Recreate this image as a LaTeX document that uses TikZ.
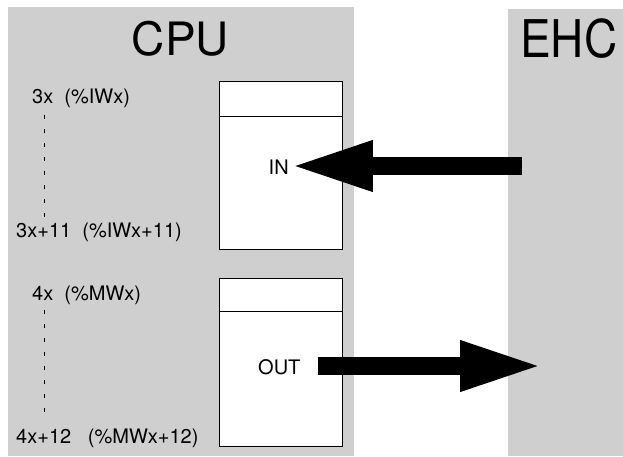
\documentclass[tikz,border=0pt]{standalone}
\usepackage{fontspec}
\setmainfont{TeX Gyre Heros}
\usetikzlibrary{arrows.meta}
\definecolor{panelgray}{RGB}{207,207,207}

\begin{document}
\begin{tikzpicture}[x=1pt, y=-1pt,
  regbox/.style={draw, fill=white, line width=0.8pt, minimum width=123pt,
    minimum height=168pt, anchor=north west, inner sep=0pt},
  lbl/.style={anchor=base west, inner sep=0pt, font=\fontsize{20}{24}\selectfont},
  title/.style={inner sep=0pt, font=\fontsize{46}{50}\selectfont},
  bigarrow/.style={line width=18pt, -{Triangle[length=83pt, width=46pt]}},
  dotline/.style={line width=0.7pt, dash pattern=on 3.5pt off 10.5pt}]

\useasboundingbox (0,0) rectangle (623,456);

% CPU and EHC panels
\fill[panelgray] (8,7) rectangle (354,456);
\fill[panelgray] (508,9) rectangle (623,456);

% Titles
\node[title, anchor=base] (cpu) at (180.5,55) {CPU};
\node[title, anchor=base west] (ehc) at (520,57) {\scalebox{1}[1.13]{EHC}};

% Input words
\node[regbox] (inbox) at (219,81) {};
\draw ([yshift=-35pt]inbox.north west) -- ([yshift=-35pt]inbox.north east);
\node[lbl] (iwfirst) at (32,103) {3x\ \ (\%IWx)};
\node[lbl] (iwlast) at (16,237) {3x+11\ \ (\%IWx+11)};
\draw[dotline] (44,115) -- (44,225);
\node[lbl] (inlbl) at (268.5,174) {IN};

% Output words
\node[regbox] (outbox) at (219,278) {};
\draw ([yshift=-33pt]outbox.north west) -- ([yshift=-33pt]outbox.north east);
\node[lbl] (mwfirst) at (32,300) {4x\ \ (\%MWx)};
\node[lbl] (mwlast) at (16,443) {4x+12\ \ \ (\%MWx+12)};
\draw[dotline] (44,310) -- (44,420);
\node[lbl] (outlbl) at (258,374) {OUT};

% Exchange arrows
\coordinate (ehcin) at (522,166);
\coordinate (ehcout) at (543,366);
\draw[bigarrow, shorten >=1pt] (ehcin) -- (ehcin -| inlbl.east);
\draw[bigarrow, shorten <=17pt] (ehcout -| outlbl.east) -- (ehcout);

\end{tikzpicture}
\end{document}
